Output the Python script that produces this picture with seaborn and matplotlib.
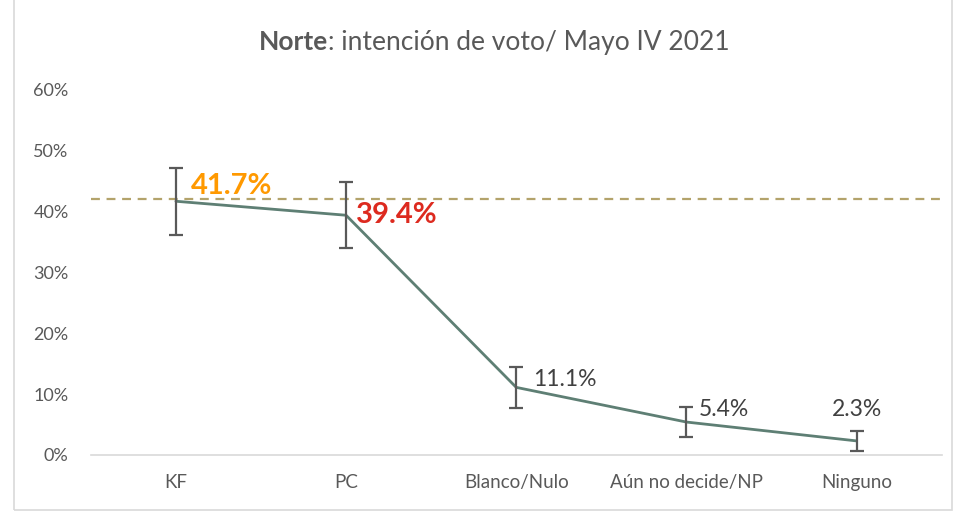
import matplotlib
matplotlib.use("Agg")
import matplotlib.pyplot as plt
import seaborn as sns
import pandas as pd
from matplotlib.patches import Rectangle

categories = ["KF", "PC", "Blanco/Nulo", "Aún no decide/NP", "Ninguno"]
values = [41.7, 39.4, 11.1, 5.4, 2.3]
errors = [5.5, 5.4, 3.4, 2.5, 1.6]
reference_level = 42.1
label_texts = ["41.7%", "39.4%", "11.1%", "5.4%", "2.3%"]
yticks = [0, 10, 20, 30, 40, 50, 60]

sns.set_style("white")
plt.rcParams["font.family"] = ["Lato", "DejaVu Sans"]

df = pd.DataFrame({"cat": categories, "val": values, "err": errors})

fig = plt.figure(figsize=(9.56, 5.14), dpi=100)
ax = fig.add_axes([0.095, 0.115, 0.89, 0.71])

sns.lineplot(data=df, x="cat", y="val", ax=ax, color="#5e7f74", linewidth=2, sort=False)
ax.errorbar(range(len(categories)), values, yerr=errors, fmt="none",
            ecolor="#595959", elinewidth=1.6, capsize=5, capthick=1.6, zorder=3)
ax.axhline(reference_level, color="#b3a36b", linestyle=(0, (4, 3)), linewidth=1.6, zorder=1)

ax.set_xlim(-0.5, len(categories) - 0.5)
ax.set_ylim(0, 60)
ax.set_yticks(yticks)
ax.set_yticklabels([f"{t}%" for t in yticks])
ax.set_xlabel("")
ax.set_ylabel("")
ax.tick_params(axis="x", labelsize=13.5, colors="#595959", length=0, pad=14)
ax.tick_params(axis="y", labelsize=13, colors="#595959", length=0, pad=16)
for s in ["top", "right", "left"]:
    ax.spines[s].set_visible(False)
ax.spines["bottom"].set_color("#d9d9d9")
ax.spines["bottom"].set_linewidth(1.2)

# data labels
ax.text(0.09, 44.2, label_texts[0], color="#ff9900", fontsize=21, fontweight="bold", ha="left", va="center")
ax.text(1.06, 39.5, label_texts[1], color="#dd2a1f", fontsize=21, fontweight="bold", ha="left", va="center")
ax.text(2.10, 12.4, label_texts[2], color="#404040", fontsize=16.5, ha="left", va="center")
ax.text(3.07, 7.5, label_texts[3], color="#404040", fontsize=16.5, ha="left", va="center")
ax.text(4.0, 7.5, label_texts[4], color="#404040", fontsize=16.5, ha="center", va="center")

# title with bold first word, centered as a whole
t1 = fig.text(0, 0.918, "Norte", fontsize=19, fontweight="bold", color="#595959", ha="left", va="center")
t2 = fig.text(0, 0.918, ": intención de voto/ Mayo IV 2021", fontsize=19, color="#595959", ha="left", va="center")
renderer = fig.canvas.get_renderer()
w1 = t1.get_window_extent(renderer).width / fig.bbox.width
w2 = t2.get_window_extent(renderer).width / fig.bbox.width
x0 = 494 / 956 - (w1 + w2) / 2
t1.set_x(x0)
t2.set_x(x0 + w1)

fig.patches.append(Rectangle((14 / 956, 4 / 514), 938 / 956, 1.2, transform=fig.transFigure,
                             fill=False, edgecolor="#d9d9d9", linewidth=1.2))

fig.savefig("out.png", dpi=100)
